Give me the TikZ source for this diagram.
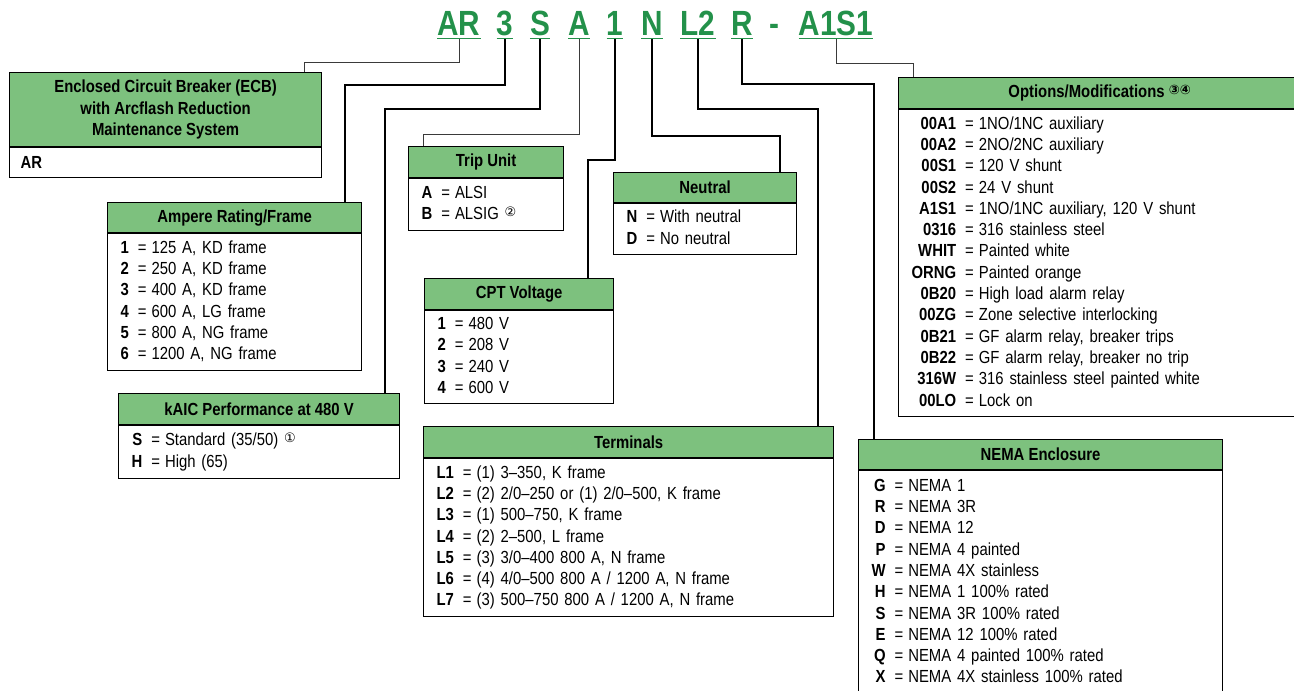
\documentclass[tikz,border=0pt]{standalone}
\usepackage{fontspec}
\setmainfont{Liberation Sans}[FakeStretch=0.85]
\newfontfamily\circfont{DejaVu Sans}
\usepackage{array}
\usepackage{xcolor}
\usepackage{tikz}
\usetikzlibrary{positioning}
\definecolor{headgreen}{HTML}{7DC17E}
\definecolor{codegreen}{HTML}{23914A}
\definecolor{linegray}{HTML}{3A3A3A}
\newcommand{\circnum}[1]{\raisebox{3pt}{\circfont\fontsize{13pt}{13pt}\selectfont #1}}
\newcommand{\listsize}{\fontsize{17.5pt}{21.3pt}\selectfont}
\newenvironment{codelist}{\listsize\begin{tabular}{@{}>{\bfseries}r@{\hspace{9pt}=\hspace{5pt}}l@{}}}{\end{tabular}}

\begin{document}
\begin{tikzpicture}[
  x=1pt, y=-1pt,
  font=\listsize,
  code/.style={font=\fontsize{35pt}{35pt}\selectfont\bfseries, text=codegreen, anchor=base, inner sep=0pt, text depth=0pt},
  head/.style={draw, fill=headgreen, line width=1.2pt, anchor=north west, inner sep=0pt, font=\listsize\bfseries, align=center},
  list/.style={draw, fill=white, line width=1.2pt, inner xsep=13pt, inner ysep=0pt, align=left},
  link/.style={line width=2.2pt},
  thinlink/.style={line width=1pt, linegray}
]
\clip (0,0) rectangle (1294,691);
% catalog number
\node[code] (codeAR) at (459,35) {AR};
\node[code] (code3) at (505,35) {3};
\node[code] (codeS) at (540,35) {S};
\node[code] (codeA) at (579,35) {A};
\node[code] (code1) at (615,35) {1};
\node[code] (codeN) at (652,35) {N};
\node[code] (codeL2) at (698,35) {L2};
\node[code] (codeR) at (742,35) {R};
\node[code] (dash) at (774,35) {-};
\node[code] (codeOpt) at (836,35) {A1S1};
\foreach \c in {codeAR,code3,codeS,codeA,code1,codeN,codeL2,codeR,codeOpt}
  \draw[codegreen, line width=1.3pt] ([yshift=-3.5pt]\c.south west) -- ([yshift=-3.5pt]\c.south east);

% boxes
\node[head, minimum width=312pt, minimum height=74pt] (ecb) at (9,72) {Enclosed Circuit Breaker (ECB)\\with Arcflash Reduction\\Maintenance System};
\node[list, minimum width=312pt, text width=290pt, inner xsep=11pt, minimum height=30pt, below=0pt of ecb] (ecbList) {\textbf{AR}};

\node[head, minimum width=254pt, minimum height=30pt] (amp) at (107,202) {Ampere Rating/Frame};
\node[list, minimum width=254pt, text width=228pt, minimum height=137pt, below=0pt of amp] (ampList) {\begin{codelist}
1 & 125 A, KD frame\\
2 & 250 A, KD frame\\
3 & 400 A, KD frame\\
4 & 600 A, LG frame\\
5 & 800 A, NG frame\\
6 & 1200 A, NG frame
\end{codelist}};

\node[head, minimum width=281pt, minimum height=31pt] (kaic) at (118,393) {kAIC Performance at 480 V};
\node[list, minimum width=281pt, text width=255pt, minimum height=53pt, below=0pt of kaic] (kaicList) {\begin{codelist}
S & Standard (35/50) \circnum{①}\\
H & High (65)
\end{codelist}};

\node[head, minimum width=155pt, minimum height=31pt] (trip) at (408,146) {Trip Unit};
\node[list, minimum width=155pt, text width=129pt, minimum height=52pt, below=0pt of trip] (tripList) {\begin{codelist}
A & ALSI\\
B & ALSIG \circnum{②}
\end{codelist}};

\node[head, minimum width=183pt, minimum height=30pt] (neutral) at (613,172) {Neutral};
\node[list, minimum width=183pt, text width=157pt, minimum height=51pt, below=0pt of neutral] (neutralList) {\begin{codelist}
N & With neutral\\
D & No neutral
\end{codelist}};

\node[head, minimum width=189pt, minimum height=31pt] (cpt) at (424,278) {CPT Voltage};
\node[list, minimum width=189pt, text width=163pt, minimum height=93pt, below=0pt of cpt] (cptList) {\begin{codelist}
1 & 480 V\\
2 & 208 V\\
3 & 240 V\\
4 & 600 V
\end{codelist}};

\node[head, minimum width=410pt, minimum height=31pt] (term) at (423,426) {Terminals};
\node[list, minimum width=410pt, text width=384pt, minimum height=158pt, below=0pt of term] (termList) {\begin{codelist}
L1 & (1) 3–350, K frame\\
L2 & (2) 2/0–250 or (1) 2/0–500, K frame\\
L3 & (1) 500–750, K frame\\
L4 & (2) 2–500, L frame\\
L5 & (3) 3/0–400 800 A, N frame\\
L6 & (4) 4/0–500 800 A / 1200 A, N frame\\
L7 & (3) 500–750 800 A / 1200 A, N frame
\end{codelist}};

\node[head, minimum width=402pt, minimum height=31pt] (opts) at (898,77) {Options/Modifications \circnum{③④}};
\node[list, minimum width=402pt, text width=376pt, minimum height=307pt, below=0pt of opts] (optsList) {\begin{codelist}
00A1 & 1NO/1NC auxiliary\\
00A2 & 2NO/2NC auxiliary\\
00S1 & 120 V shunt\\
00S2 & 24 V shunt\\
A1S1 & 1NO/1NC auxiliary, 120 V shunt\\
0316 & 316 stainless steel\\
WHIT & Painted white\\
ORNG & Painted orange\\
0B20 & High load alarm relay\\
00ZG & Zone selective interlocking\\
0B21 & GF alarm relay, breaker trips\\
0B22 & GF alarm relay, breaker no trip\\
316W & 316 stainless steel painted white\\
00LO & Lock on
\end{codelist}};

\node[head, minimum width=364pt, minimum height=30pt] (nema) at (858,439) {NEMA Enclosure};
\node[list, minimum width=364pt, text width=338pt, minimum height=224pt, below=0pt of nema] (nemaList) {\begin{codelist}
G & NEMA 1\\
R & NEMA 3R\\
D & NEMA 12\\
P & NEMA 4 painted\\
W & NEMA 4X stainless\\
H & NEMA 1 100\% rated\\
S & NEMA 3R 100\% rated\\
E & NEMA 12 100\% rated\\
Q & NEMA 4 painted 100\% rated\\
X & NEMA 4X stainless 100\% rated
\end{codelist}};

% connectors
\draw[thinlink] ([yshift=-4pt]codeAR.south) -- ++(0,23) -| ([xshift=-18pt]ecb.north east);
\draw[link] ([yshift=-4pt]code3.south) -- ++(0,46) -| ([xshift=-17pt]amp.north east);
\draw[link] ([yshift=-4pt]codeS.south) -- ++(0,70) -| ([xshift=-15pt]kaic.north east);
\draw[thinlink] ([yshift=-4pt]codeA.south) -- ++(0,95) -| ([xshift=15pt]trip.north west);
\draw[link] ([yshift=-4pt]code1.south) -- ++(0,121) -| ([xshift=-26pt]cpt.north east);
\draw[link] ([yshift=-4pt]codeN.south) -- ++(0,97) -| ([xshift=-17pt]neutral.north east);
\draw[link] ([yshift=-4pt]codeL2.south) -- ++(0,70) -| ([xshift=-16pt]term.north east);
\draw[link] ([yshift=-4pt]codeR.south) -- ++(0,45) -| ([xshift=16pt]nema.north west);
\draw[thinlink] ([yshift=-4pt]codeOpt.south) -- ++(0,24) -| ([xshift=15pt]opts.north west);
\end{tikzpicture}
\end{document}
